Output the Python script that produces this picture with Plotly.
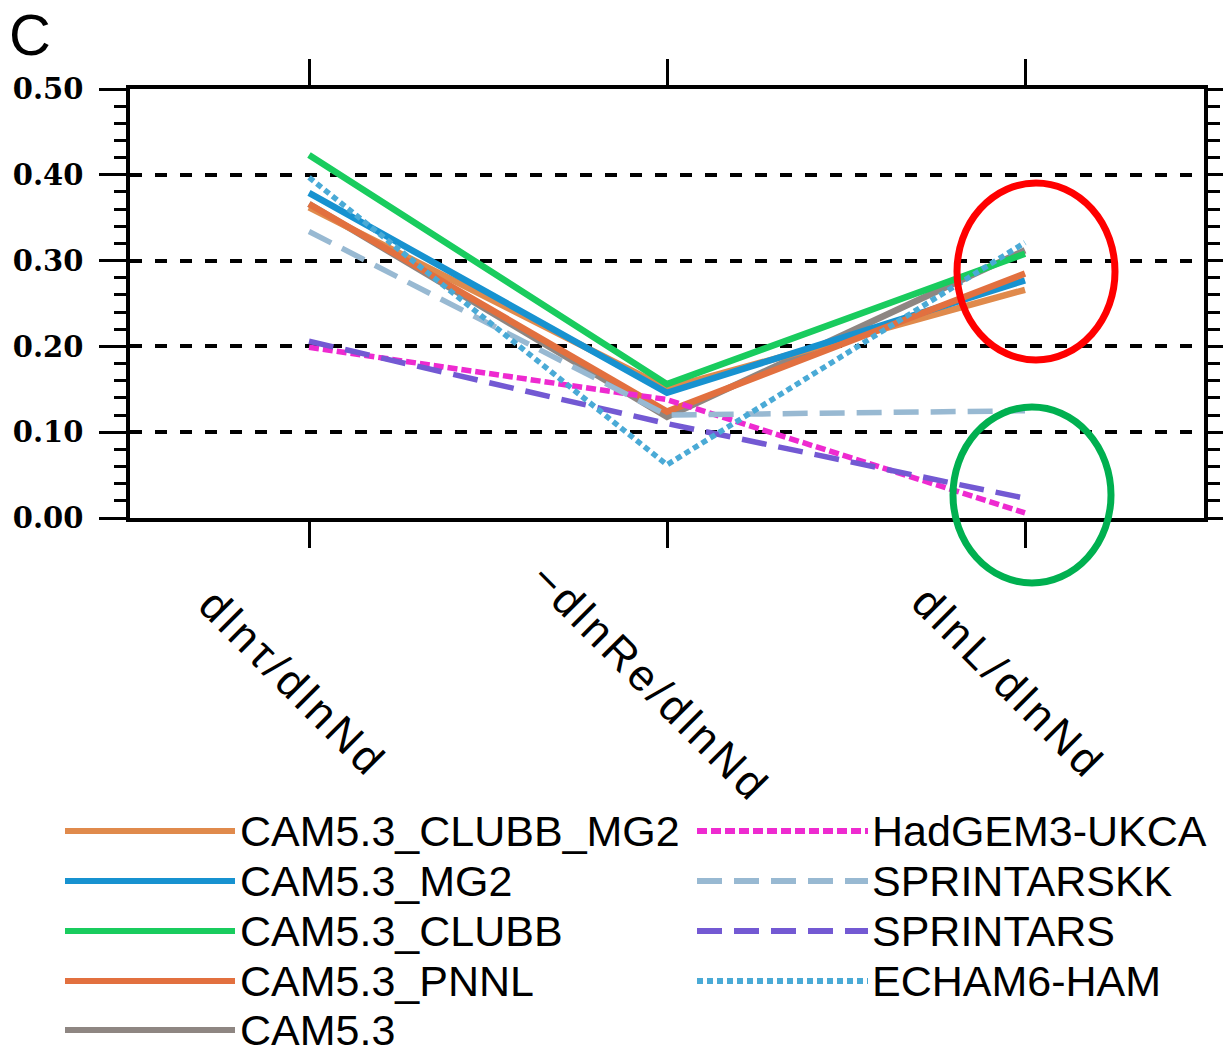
import plotly.graph_objects as go

W, H = 1223, 1056

categories = ["dlnτ/dlnNd", "−dlnRe/dlnNd", "dlnL/dlnNd"]
models = ["CAM5.3_CLUBB_MG2", "CAM5.3_MG2", "CAM5.3_CLUBB", "CAM5.3_PNNL", "CAM5.3",
          "HadGEM3-UKCA", "SPRINTARSKK", "SPRINTARS", "ECHAM6-HAM"]
cam53_clubb_mg2 = [0.362, 0.151, 0.266]
cam53_mg2 = [0.379, 0.146, 0.277]
cam53_clubb = [0.423, 0.156, 0.308]
cam53_pnnl = [0.366, 0.124, 0.285]
cam53 = [0.366, 0.118, 0.312]
hadgem3_ukca = [0.199, 0.138, 0.006]
sprintarskk = [0.334, 0.120, 0.125]
sprintars = [0.206, 0.110, 0.023]
echam6_ham = [0.397, 0.062, 0.321]
yticks = [0.0, 0.1, 0.2, 0.3, 0.4, 0.5]
ytick_labels = ["0.00", "0.10", "0.20", "0.30", "0.40", "0.50"]

values = [cam53_clubb_mg2, cam53_mg2, cam53_clubb, cam53_pnnl, cam53,
          hadgem3_ukca, sprintarskk, sprintars, echam6_ham]
colors = ["#E08A4C", "#1792D0", "#19CC5E", "#E2703F", "#8E8682",
          "#EE2AD0", "#98B9D2", "#7359D3", "#4AAAD6"]
dashes = ["solid", "solid", "solid", "solid", "solid",
          "10px,4px", "25px,12px", "25px,12px", "6px,4px"]
widths = [6.5, 6.5, 6.5, 6.5, 6.5, 5.5, 5.5, 5.5, 5.5]
draw_order = [4, 0, 1, 2, 3, 5, 6, 7, 8]

fig = go.Figure()
xs = list(range(len(categories)))
for i in draw_order:
    fig.add_trace(go.Scatter(x=xs, y=values[i], mode="lines", name=models[i], showlegend=False,
                             line=dict(color=colors[i], dash=dashes[i], width=widths[i]),
                             xaxis="x", yaxis="y"))

# Legend (drawn in a pixel-coordinate overlay axis)
leg_left_rows = [831, 881, 931, 981, 1030]
leg_right_rows = [831, 881, 931, 981]
annotations = []
for i, (name, c, d, w) in enumerate(zip(models, colors, dashes, widths)):
    if i < 5:
        y = leg_left_rows[i]; x0, x1, tx = 65, 235, 238
    else:
        y = leg_right_rows[i - 5]; x0, x1, tx = 697, 868, 870
    fig.add_trace(go.Scatter(x=[x0, x1], y=[y, y], mode="lines", showlegend=False,
                             line=dict(color=c, dash=d, width=6), xaxis="x2", yaxis="y2",
                             hoverinfo="skip"))
    annotations.append(dict(x=tx, y=y, xref="x2", yref="y2", text=name, showarrow=False,
                            xanchor="left", yanchor="middle",
                            font=dict(family="Liberation Sans", size=43, color="black")))

# rotated category labels
for i, cat in enumerate(categories):
    annotations.append(dict(x=i, y=682, xref="x", yref="y2", xshift=-16,
                            text='<span style="letter-spacing:4px">' + cat + '</span>',
                            showarrow=False, textangle=45, xanchor="center", yanchor="middle",
                            font=dict(family="Liberation Sans", size=44, color="black")))

# panel letter
annotations.append(dict(x=7, y=34, xref="x2", yref="y2", text="C", showarrow=False,
                        xanchor="left", yanchor="middle",
                        font=dict(family="Liberation Sans", size=58, color="black")))

shapes = [
    dict(type="circle", xref="x2", yref="y2", x0=957, x1=1115, y0=183, y1=360,
         line=dict(color="#FF0000", width=7)),
    dict(type="circle", xref="x2", yref="y2", x0=953, x1=1111, y0=407, y1=583,
         line=dict(color="#00B050", width=7)),
]

fig.update_layout(
    width=W, height=H, template="none",
    margin=dict(l=0, r=0, t=0, b=0, pad=0),
    paper_bgcolor="white", plot_bgcolor="rgba(0,0,0,0)",
    showlegend=False,
    xaxis=dict(domain=[130 / W, 1204 / W], range=[-0.5, 2.5], tickvals=xs,
               showticklabels=False, ticks="outside", ticklen=26, tickwidth=3,
               tickcolor="black", showline=True, linewidth=3.5, linecolor="black",
               mirror="ticks", showgrid=False, zeroline=False, automargin=False),
    yaxis=dict(domain=[1 - 518 / H, 1 - 89 / H], range=[0, 0.5], tickvals=yticks,
               ticktext=ytick_labels, ticks="outside", ticklen=27, tickwidth=3,
               tickcolor="black", showline=True, linewidth=3.5, linecolor="black",
               mirror="ticks", showgrid=True, gridcolor="black", gridwidth=3.5,
               griddash="12px,13px", zeroline=False, automargin=False,
               ticklabelstandoff=10,
               tickfont=dict(family="DejaVu Serif", size=29, color="black", weight="bold"),
               minor=dict(dtick=0.02, ticks="outside", ticklen=12, tickwidth=3,
                          tickcolor="black", showgrid=False)),
    xaxis2=dict(domain=[0, 1], range=[0, W], visible=False, anchor="y2", fixedrange=True),
    yaxis2=dict(domain=[0, 1], range=[H, 0], visible=False, anchor="x2", fixedrange=True),
    annotations=annotations,
    shapes=shapes,
)

fig.write_html("out.html")
